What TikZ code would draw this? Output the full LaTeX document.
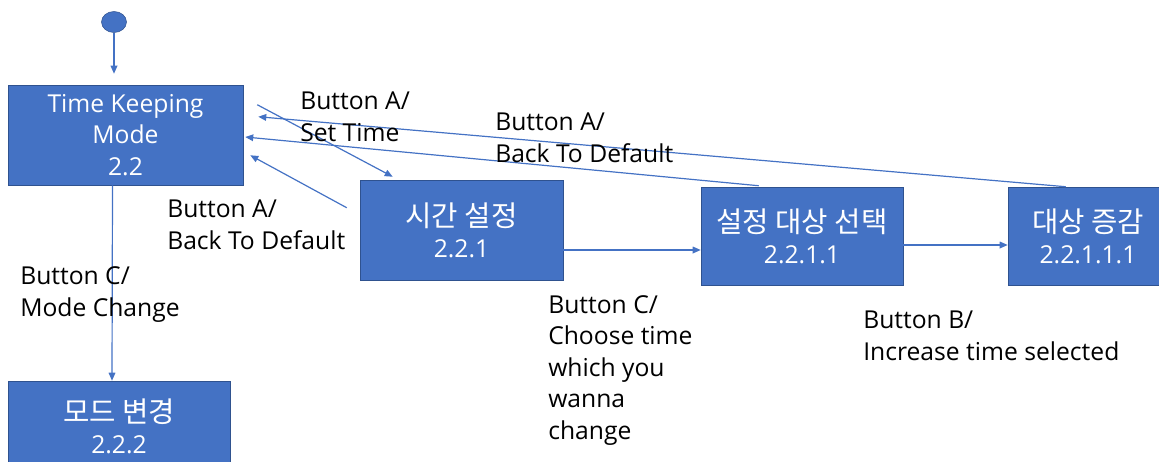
\documentclass[tikz,border=0pt]{standalone}
\usepackage{fontspec}
\setmainfont{Open Sans}
\newfontfamily\kr{Noto Sans CJK KR}
\definecolor{boxblue}{RGB}{68,114,196}
\definecolor{boxedge}{RGB}{47,82,143}
\usetikzlibrary{positioning,calc,arrows.meta,shapes.geometric}
\newcommand{\hangul}[1]{{\kr\fontsize{21.5}{23.5}\selectfont #1}}

\begin{document}
\begin{tikzpicture}[x=0.75pt, y=-0.75pt,
  statebox/.style={draw=boxedge, fill=boxblue, text=white, align=center, inner sep=0, font=\fontsize{18.5}{23.5}\selectfont},
  note/.style={anchor=base west, align=left, inner sep=0, font=\fontsize{18.5}{23.6}\selectfont},
  link/.style={draw=boxblue, line width=0.9pt, ->},
  >={Triangle[length=6pt,width=5pt]}]

  \useasboundingbox (0,0) rectangle (1159,461);

  \node[ellipse, fill=boxblue, draw=boxedge, minimum width=18.75pt, minimum height=15.75pt, inner sep=0] (init) at (114,22) {};
  \node[statebox, minimum width=176.25pt, minimum height=75pt] (tkm) at (125.5,135) {Time Keeping\\Mode\\2.2};
  \node[statebox, minimum width=166.5pt, minimum height=67.5pt] (mode) at (119,426) {\hangul{모드 변경}\\2.2.2};
  \node[statebox, minimum width=152.25pt, minimum height=75pt] (set) at (461.5,230) {\hangul{시간 설정}\\2.2.1};
  \node[statebox, minimum width=151.5pt, minimum height=73.5pt] (sel) at (802,236) {\hangul{설정 대상 선택}\\2.2.1.1};
  \node[statebox, minimum width=120pt, minimum height=73.5pt] (inc) at (1088,236) {\hangul{대상 증감}\\2.2.1.1.1};

  \draw[link] (init) -- ($(tkm.north -| init)+(0,-11)$);
  \draw[link] ($(tkm.south)+(-13,0)$) -- ($(mode.north)+(-7,0)$);
  \draw[link] ($(tkm.north east)+(14,20)$) -- ($(set.north west)+(33,-3)$);
  \draw[link] ($(set.north west)+(-13,28)$) -- ($(tkm.south east)+(7,-30)$);
  \draw[link] ($(sel.north west)+(58,-1)$) -- ($(tkm.east)+(2,2)$);
  \draw[link] ($(inc.north west)+(58,0)$) -- ($(tkm.north east)+(15,32)$);
  \draw[link] ($(set.east)+(0,20)$) -- ($(sel.west)+(0,14)$);
  \draw[link] ($(sel.east)+(0,9)$) -- ($(inc.west)+(0,9)$);

  % base = last line
  \node[note] (settime) at (300,141) {Button A/\\Set Time};
  \node[note] (backset) at (167,249) {Button A/\\Back To Default};
  \node[note] (backsel) at (495,162) {Button A/\\Back To Default};
  \node[note] (modechg) at (20,316) {Button C/\\Mode Change};
  \node[note] (choose) at (548,439) {Button C/\\Choose time\\which you\\wanna\\change};
  \node[note] (incr) at (863,360) {Button B/\\Increase time selected};
\end{tikzpicture}
\end{document}
